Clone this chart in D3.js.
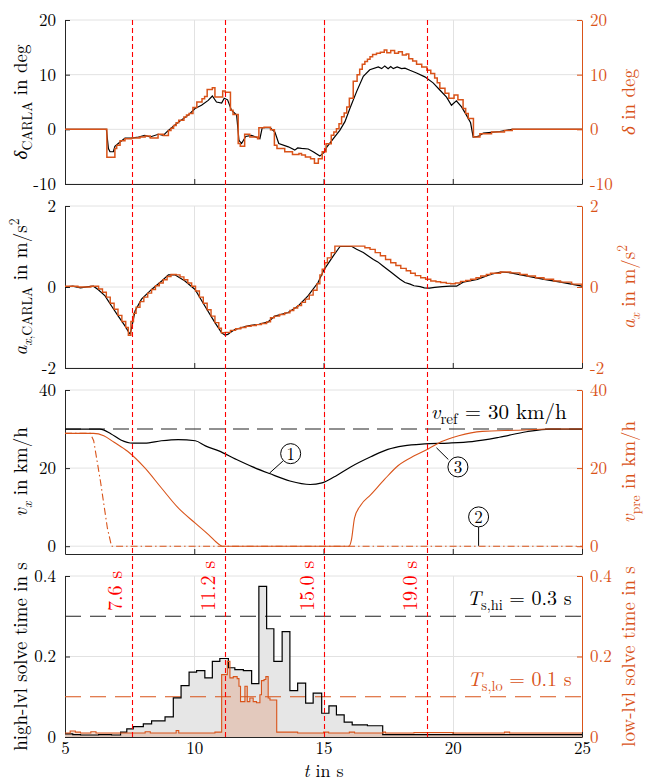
<!DOCTYPE html>
<html><head><meta charset="utf-8">
<script src="https://cdn.jsdelivr.net/npm/d3@7"></script>
<style>body{margin:0;background:#fff} svg text{font-family:"Latin Modern Roman","CMU Serif","Liberation Serif","DejaVu Serif","Noto Serif","Tinos","FreeSerif","Times New Roman",Times,serif;}</style>
</head><body><svg id="c" width="646" height="784"></svg>
<script>
// ---------------- DATA ----------------
const timeTicks = [5, 10, 15, 20, 25];
const markerTimes = [7.6, 11.2, 15.0, 19.0];
const markerLabels = ["7.6 s", "11.2 s", "15.0 s", "19.0 s"];

// Panel 1: steering angle (deg)
const deltaCarla = [[5,0],[6.6,0],[6.68,-3.5],[6.74,-4.1],[6.87,-4.1],[6.93,-3.1],[7.06,-2.6],[7.32,-1.6],[7.58,-1.6],[7.84,-1.4],[8.09,-1.1],[8.29,-1.4],[8.61,-0.9],[8.8,-1.1],[9.0,-0.2],[9.38,1.3],[9.77,2.6],[10.03,3.8],[10.28,4.4],[10.54,5.3],[10.7,6.1],[10.86,5.0],[11.06,4.8],[11.16,5.7],[11.29,5.4],[11.44,3.5],[11.64,2.6],[11.73,-2.0],[11.83,-2.6],[11.99,-1.3],[12.22,-1.1],[12.54,-1.7],[12.63,0.3],[12.93,0.3],[13.12,-0.5],[13.27,-2.6],[13.64,-3.2],[13.89,-3.8],[14.0,-3.4],[14.15,-3.5],[14.41,-3.6],[14.6,-4.1],[14.86,-4.9],[15.05,-4.1],[15.12,-3.3],[15.38,-1.7],[15.63,-0.2],[15.83,1.4],[16.02,3.8],[16.28,6.9],[16.54,9.7],[16.79,10.9],[17.12,11.4],[17.25,11.1],[17.37,11.6],[17.5,11.1],[17.6,11.5],[17.7,11.1],[17.85,11.4],[18.02,11.1],[18.15,11.2],[18.34,10.8],[18.6,10.3],[18.92,9.6],[19.24,8.5],[19.5,7.2],[19.76,5.9],[19.95,4.4],[20.14,5.2],[20.34,4.1],[20.53,2.6],[20.69,1.2],[20.79,-1.4],[20.98,-1.3],[21.18,-0.7],[21.82,-0.4],[22.3,0],[25,0]];
const deltaCmd = [[5,0],[6.62,-5.1],[6.93,-3.5],[7.0,-2.9],[7.13,-2.1],[7.32,-1.7],[7.58,-1.6],[7.9,-1.4],[8.1,-1.2],[8.3,-1.6],[8.6,-0.9],[8.8,-1.15],[9.0,-0.2],[9.1,0.2],[9.2,0.7],[9.3,1.2],[9.4,1.65],[9.6,2.25],[9.7,2.6],[9.8,2.9],[9.95,4.0],[10.1,5.0],[10.3,5.6],[10.4,6.0],[10.5,7.3],[10.7,7.6],[10.8,5.9],[11.1,7.0],[11.2,6.8],[11.4,3.5],[11.5,2.7],[11.7,-2.6],[11.78,-3.1],[11.95,-0.9],[12.15,-1.4],[12.45,-1.7],[12.5,0.3],[12.7,0.4],[12.95,-0.06],[13.1,-2.9],[13.2,-3.5],[13.5,-4.1],[13.8,-4.6],[14.05,-4.4],[14.15,-4.7],[14.3,-5.06],[14.5,-5.4],[14.65,-6.2],[14.8,-5.4],[14.95,-4.1],[15.1,-2.65],[15.3,-1.1],[15.4,-0.5],[15.5,0.1],[15.6,1.0],[15.7,2.3],[15.8,3.0],[15.9,4.1],[16.0,5.7],[16.15,8.8],[16.3,10.0],[16.4,11.0],[16.5,11.9],[16.6,12.4],[16.7,12.8],[16.8,13.3],[16.9,13.7],[17.05,13.9],[17.2,14.1],[17.35,14.5],[17.45,14.0],[17.6,14.4],[17.75,13.9],[17.9,14.2],[18.05,13.6],[18.2,13.8],[18.3,12.9],[18.45,12.5],[18.6,11.9],[18.8,11.4],[19.0,10.8],[19.15,10.2],[19.3,9.4],[19.4,8.5],[19.5,7.5],[19.7,6.6],[19.85,5.7],[20.05,6.3],[20.2,5.4],[20.4,3.8],[20.5,2.9],[20.6,2.0],[20.8,-1.4],[21.05,-0.8],[21.5,-0.5],[22.0,-0.2],[22.3,0],[25,0]];

// Panel 2: longitudinal acceleration (m/s^2)
const axCarla = [[5,0],[5.3,0.02],[5.6,-0.02],[5.9,0.01],[6.1,0.02],[6.29,-0.07],[6.55,-0.22],[6.8,-0.47],[7.06,-0.72],[7.32,-0.96],[7.47,-1.12],[7.52,-1.16],[7.58,-1.0],[7.71,-0.59],[7.96,-0.3],[8.35,-0.06],[8.74,0.15],[9.0,0.3],[9.25,0.3],[9.64,0.15],[10.03,-0.06],[10.41,-0.47],[10.8,-0.88],[11.06,-1.13],[11.19,-1.19],[11.3,-1.17],[11.38,-1.13],[11.57,-1.05],[12.09,-0.96],[12.5,-0.92],[12.86,-0.86],[13.12,-0.72],[13.63,-0.63],[14.02,-0.47],[14.4,-0.22],[14.79,0.11],[15.0,0.4],[15.12,0.52],[15.38,0.77],[15.64,1.0],[16.1,1.0],[16.28,0.93],[16.54,0.85],[16.93,0.68],[17.1,0.62],[17.3,0.52],[17.64,0.35],[17.96,0.19],[18.15,0.11],[18.35,0.07],[18.5,0.03],[18.74,0.01],[18.9,-0.02],[19.1,-0.03],[19.3,-0.01],[19.6,0.01],[19.9,0.02],[20.15,0.02],[20.4,0.12],[20.95,0.19],[21.46,0.31],[21.85,0.37],[22.24,0.35],[22.88,0.27],[23.53,0.19],[24.17,0.12],[25,0.02]];
const axCmd = [[5,0.02],[5.5,0],[6.0,0.02],[6.3,-0.05],[6.45,-0.13],[6.6,-0.25],[6.75,-0.4],[6.9,-0.55],[7.05,-0.7],[7.2,-0.85],[7.35,-1.0],[7.45,-1.19],[7.55,-0.85],[7.65,-0.65],[7.75,-0.5],[7.9,-0.36],[8.05,-0.25],[8.2,-0.15],[8.35,-0.06],[8.5,0.03],[8.65,0.1],[8.8,0.18],[8.95,0.26],[9.1,0.31],[9.3,0.3],[9.45,0.25],[9.6,0.18],[9.75,0.1],[9.9,0.02],[10.05,-0.1],[10.2,-0.25],[10.35,-0.4],[10.5,-0.56],[10.65,-0.72],[10.8,-0.88],[10.95,-1.02],[11.05,-1.13],[11.2,-1.12],[11.4,-1.07],[11.6,-1.03],[11.8,-1.0],[12.0,-0.97],[12.2,-0.95],[12.4,-0.93],[12.6,-0.9],[12.8,-0.86],[12.95,-0.76],[13.1,-0.72],[13.3,-0.68],[13.5,-0.64],[13.7,-0.58],[13.85,-0.52],[14.0,-0.46],[14.15,-0.38],[14.3,-0.3],[14.45,-0.2],[14.6,-0.08],[14.75,0.08],[14.86,0.3],[14.95,0.44],[15.05,0.6],[15.15,0.72],[15.3,0.85],[15.44,1.01],[16.41,1.01],[16.6,0.97],[16.8,0.93],[17.0,0.85],[17.2,0.77],[17.4,0.68],[17.6,0.6],[17.8,0.53],[17.99,0.46],[18.2,0.4],[18.37,0.34],[18.55,0.28],[18.76,0.23],[18.95,0.19],[19.15,0.15],[19.35,0.13],[19.53,0.11],[19.75,0.09],[19.92,0.08],[20.1,0.1],[20.3,0.14],[20.5,0.16],[20.69,0.19],[20.9,0.23],[21.08,0.27],[21.3,0.31],[21.46,0.34],[21.85,0.37],[22.24,0.35],[22.6,0.31],[22.88,0.27],[23.2,0.23],[23.53,0.19],[23.9,0.15],[24.17,0.12],[24.6,0.07],[25,0.02]];

// Panel 3: velocities (km/h)
const vRef = 30;
const vx = [[5,30],[6.35,30],[6.77,28.8],[7.16,27.2],[7.62,26.4],[8.08,26.4],[8.73,27.0],[9.38,27.3],[10.04,27.0],[10.43,25.7],[10.95,24.4],[11.6,22.3],[12.26,20.3],[12.91,18.6],[13.7,16.7],[14.48,15.8],[14.94,16.2],[15.4,17.7],[16.05,20.3],[16.83,22.9],[17.49,24.8],[18.1,25.7],[18.92,26.2],[19.84,26.4],[20.75,26.8],[21.8,27.9],[22.85,29.3],[23.76,30],[25,30]];
const vPre = [[5,28.9],[6.1,28.9],[6.5,28.3],[6.9,26.6],[7.42,24.3],[8.08,20.1],[8.73,14.9],[9.38,9.8],[10.04,5.9],[10.56,2.9],[10.95,0.5],[11.08,0],[15.99,0],[16.08,1.6],[16.2,7.2],[16.44,10.5],[16.83,13.2],[17.36,17.1],[17.88,20.6],[18.53,23.2],[19.05,24.9],[19.57,26.8],[20.23,28.3],[21.14,29.4],[22.45,29.7],[23.76,30],[25,30]];
const vPreAlt = [[5,28.9],[5.98,28.9],[6.11,27.0],[6.37,16.7],[6.64,4.6],[6.8,0],[25,0]];

// Panel 4: solve times (s)
const TsHi = 0.3, TsLo = 0.1;
const solveHi = [[5,0.008],[5.3,0.006],[5.6,0.005],[6.3,0.006],[6.8,0.005],[7.15,0.012],[7.39,0.02],[7.64,0.026],[8.03,0.0325],[8.35,0.04],[8.87,0.05],[9.19,0.097],[9.49,0.1275],[9.8,0.161],[10.09,0.165],[10.41,0.147],[10.7,0.188],[10.99,0.195],[11.32,0.172],[11.57,0.1675],[11.9,0.165],[12.22,0.1325],[12.5,0.374],[12.8,0.269],[13.08,0.188],[13.4,0.262],[13.7,0.115],[14.0,0.134],[14.31,0.084],[14.6,0.109],[14.93,0.059],[15.21,0.0775],[15.5,0.055],[15.8,0.037],[16.11,0.03],[16.7,0.028],[17.29,0.006],[25,0.006]];
const solveLo = [[5,0.01],[5.2,0.015],[5.4,0.012],[5.6,0.01],[6.0,0.013],[6.2,0.01],[8.1,0.013],[8.3,0.01],[9.3,0.016],[9.4,0.01],[10.8,0.012],[11.06,0.155],[11.28,0.188],[11.38,0.147],[11.51,0.15],[11.66,0.145],[11.73,0.126],[11.79,0.088],[11.96,0.126],[12.05,0.088],[12.15,0.097],[12.28,0.088],[12.41,0.085],[12.54,0.105],[12.6,0.14],[12.7,0.143],[12.77,0.15],[12.86,0.097],[12.93,0.092],[13.19,0.012],[14.0,0.01],[15.0,0.012],[15.2,0.01],[16.0,0.012],[16.2,0.01],[17.3,0.012],[17.4,0.01],[18.5,0.011],[20,0.01],[22,0.012],[22.2,0.01],[25,0.01]];

// ---------------- DRAWING ----------------
const ORANGE = "#D95319", RED = "#FF0000", GRID = "#E2E2E2";
const svg = d3.select("#c");
svg.append("rect").attr("width",646).attr("height",784).attr("fill","#fff");
const x = d3.scaleLinear().domain([5,25]).range([65,582]);
const X0 = x.range()[0], X1 = x.range()[1];
const px = v => Math.round(x(v)) + 0.5;

const panels = [
  {r:[184,20], dom:[-10,20], ticks:[-10,0,10,20]},
  {r:[368,206], dom:[-2,2], ticks:[-2,0,2]},
  {r:[554,390], dom:[-2,40], ticks:[0,20,40]},
  {r:[737,576], dom:[0,0.4], ticks:[0,0.2,0.4]}
];
panels.forEach(p => p.y = d3.scaleLinear().domain(p.dom).range(p.r));
const fmt = d => String(d);

function rich(g, segs, size, color) {
  const t = g.append("text").attr("font-size", size).attr("fill", color || "#000");
  let shift = 0;
  segs.forEach(s => {
    const ts = t.append("tspan").text(s.t);
    if (s.i) ts.attr("font-style", "italic");
    const target = s.sub ? 0.25 * size : s.sup ? -0.4 * size : 0;
    ts.attr("dy", target - shift); shift = target;
    if (s.sub || s.sup) ts.attr("font-size", size * 0.72);
  });
  return t;
}

panels.forEach((p, i) => {
  const y = p.y;
  const g = svg.append("g");
  g.selectAll(".gy").data(p.ticks).join("line")
    .attr("x1", X0).attr("x2", X1).attr("y1", d => y(d)).attr("y2", d => y(d))
    .attr("stroke", GRID).attr("stroke-width", 1);
  g.selectAll(".gx").data(timeTicks.slice(1, -1)).join("line")
    .attr("x1", d => px(d)).attr("x2", d => px(d)).attr("y1", p.r[0]).attr("y2", p.r[1])
    .attr("stroke", GRID).attr("stroke-width", 1);
  const gl = g.append("g").attr("transform", `translate(${X0},0)`)
    .call(d3.axisLeft(y).tickValues(p.ticks).tickSize(-5).tickSizeOuter(0).tickPadding(9).tickFormat(fmt));
  const gr = g.append("g").attr("transform", `translate(${X1},0)`)
    .call(d3.axisRight(y).tickValues(p.ticks).tickSize(-5).tickSizeOuter(0).tickPadding(8).tickFormat(fmt));
  const gb = g.append("g").attr("transform", `translate(0,${p.r[0]})`)
    .call(d3.axisBottom(x).tickValues(timeTicks).tickSize(-5).tickSizeOuter(0).tickPadding(5).tickFormat(i === 3 ? fmt : () => ""));
  [gl, gb].forEach(a => { a.selectAll("path,line").attr("stroke", "#262626"); a.selectAll("text").attr("fill", "#000"); });
  gr.selectAll("path,line").attr("stroke", ORANGE); gr.selectAll("text").attr("fill", ORANGE);
  [gl, gr, gb].forEach(a => { a.attr("font-family", null); a.selectAll("text").attr("font-size", 17); });
  p.g = g;
});

const line = (y, curve) => d3.line().x(d => x(d[0])).y(d => y(d[1])).curve(curve || d3.curveLinear);

// Panel 1
{
  const p = panels[0], y = p.y, g = p.g;
  g.append("path").attr("d", line(y)(deltaCarla)).attr("fill", "none").attr("stroke", "#000").attr("stroke-width", 1.2);
  g.append("path").attr("d", line(y, d3.curveStepAfter)(deltaCmd)).attr("fill", "none").attr("stroke", ORANGE).attr("stroke-width", 1.5);
}
// Panel 2
{
  const p = panels[1], y = p.y, g = p.g;
  g.append("path").attr("d", line(y)(axCarla)).attr("fill", "none").attr("stroke", "#000").attr("stroke-width", 1.2);
  g.append("path").attr("d", line(y, d3.curveStepAfter)(axCmd)).attr("fill", "none").attr("stroke", ORANGE).attr("stroke-width", 1.4);
}
// Panel 3
{
  const p = panels[2], y = p.y, g = p.g;
  g.append("line").attr("x1", X0).attr("x2", X1).attr("y1", y(vRef)).attr("y2", y(vRef))
    .attr("stroke", "#222").attr("stroke-width", 1.1).attr("stroke-dasharray", "16,8");
  g.append("path").attr("d", line(y, d3.curveMonotoneX)(vx)).attr("fill", "none").attr("stroke", "#000").attr("stroke-width", 1.2);
  g.append("path").attr("d", line(y, d3.curveMonotoneX)(vPre)).attr("fill", "none").attr("stroke", ORANGE).attr("stroke-width", 1.1);
  g.append("path").attr("d", line(y)(vPreAlt)).attr("fill", "none").attr("stroke", ORANGE).attr("stroke-width", 1.1).attr("stroke-dasharray", "7,3,1.5,3");
  const t = rich(g, [{t:"v", i:1},{t:"ref", sub:1},{t:" = 30 km/h"}], 21);
  t.attr("x", x(24.41)).attr("y", y(32.6)).attr("text-anchor", "end");
  const marks = [
    {c:[13.73,23.7], l:[[13.43,21.8],[12.91,18.7]], n:"1"},
    {c:[21.0,7.5], l:[[21.0,4.9],[21.0,0.1]], n:"2"},
    {c:[20.2,20.3], l:[[19.83,22.2],[19.37,25.2]], n:"3"}
  ];
  marks.forEach(m => {
    g.append("path").attr("d", line(y)(m.l)).attr("stroke", "#000").attr("stroke-width", 1).attr("fill", "none");
    g.append("circle").attr("cx", x(m.c[0])).attr("cy", y(m.c[1])).attr("r", 10).attr("fill", "#fff").attr("stroke", "#000").attr("stroke-width", 1);
    g.append("text").attr("x", x(m.c[0])).attr("y", y(m.c[1])).attr("dy", "0.36em").attr("text-anchor", "middle")
      .attr("font-size", 17).text(m.n);
  });
}
// Panel 4
{
  const p = panels[3], y = p.y, g = p.g;
  const area = d3.area().x(d => x(d[0])).y0(y(0)).y1(d => y(d[1])).curve(d3.curveStepAfter);
  g.append("path").attr("d", area(solveHi)).attr("fill", "#E6E6E6");
  g.append("path").attr("d", area(solveLo)).attr("fill", ORANGE).attr("fill-opacity", 0.2);
  g.append("line").attr("x1", X0).attr("x2", X1).attr("y1", y(TsHi)).attr("y2", y(TsHi))
    .attr("stroke", "#222").attr("stroke-width", 1.1).attr("stroke-dasharray", "16,9");
  g.append("line").attr("x1", X0).attr("x2", X1).attr("y1", y(TsLo)).attr("y2", y(TsLo))
    .attr("stroke", ORANGE).attr("stroke-width", 1.1).attr("stroke-dasharray", "16,9");
  g.append("path").attr("d", line(y, d3.curveStepAfter)(solveHi)).attr("fill", "none").attr("stroke", "#000").attr("stroke-width", 1.2);
  g.append("path").attr("d", line(y, d3.curveStepAfter)(solveLo)).attr("fill", "none").attr("stroke", ORANGE).attr("stroke-width", 1.1);
  const th = rich(g, [{t:"T", i:1},{t:"s,hi", sub:1},{t:" = 0.3 s"}], 20);
  th.attr("x", x(24.6)).attr("y", y(0.328)).attr("text-anchor", "end");
  const tl = rich(g, [{t:"T", i:1},{t:"s,lo", sub:1},{t:" = 0.1 s"}], 20, ORANGE);
  tl.attr("x", x(24.6)).attr("y", y(0.127)).attr("text-anchor", "end");
  markerTimes.forEach((t, k) => {
    g.append("text").attr("transform", `translate(${x(t) - 10},${y(0.313)}) rotate(-90)`)
      .attr("font-size", 20).attr("fill", RED).text(markerLabels[k]);
  });
}

svg.append("g").selectAll("line").data(markerTimes).join("line")
  .attr("x1", d => px(d)).attr("x2", d => px(d)).attr("y1", panels[0].r[1]).attr("y2", panels[3].r[0])
  .attr("stroke", RED).attr("stroke-width", 1.1).attr("stroke-dasharray", "5,3");

const leftTitles = [
  [{t:"δ", i:1},{t:"CARLA", sub:1},{t:" in deg"}],
  [{t:"a", i:1},{t:"x", sub:1, i:1},{t:",CARLA", sub:1},{t:" in m/s"},{t:"2", sup:1}],
  [{t:"v", i:1},{t:"x", sub:1, i:1},{t:" in km/h"}],
  [{t:"high-lvl solve time in s"}]
];
const rightTitles = [
  [{t:"δ", i:1},{t:" in deg"}],
  [{t:"a", i:1},{t:"x", sub:1, i:1},{t:" in m/s"},{t:"2", sup:1}],
  [{t:"v", i:1},{t:"pre", sub:1},{t:" in km/h"}],
  [{t:"low-lvl solve time in s"}]
];
panels.forEach((p, i) => {
  const ym = (p.r[0] + p.r[1]) / 2;
  rich(svg, leftTitles[i], 19).attr("text-anchor", "middle").attr("transform", `translate(27,${ym}) rotate(-90)`);
  rich(svg, rightTitles[i], 19, ORANGE).attr("text-anchor", "middle").attr("transform", `translate(635,${ym}) rotate(-90)`);
});
rich(svg, [{t:"t", i:1},{t:" in s"}], 18).attr("text-anchor", "middle").attr("x", (X0 + X1) / 2).attr("y", 777);
</script></body></html>
